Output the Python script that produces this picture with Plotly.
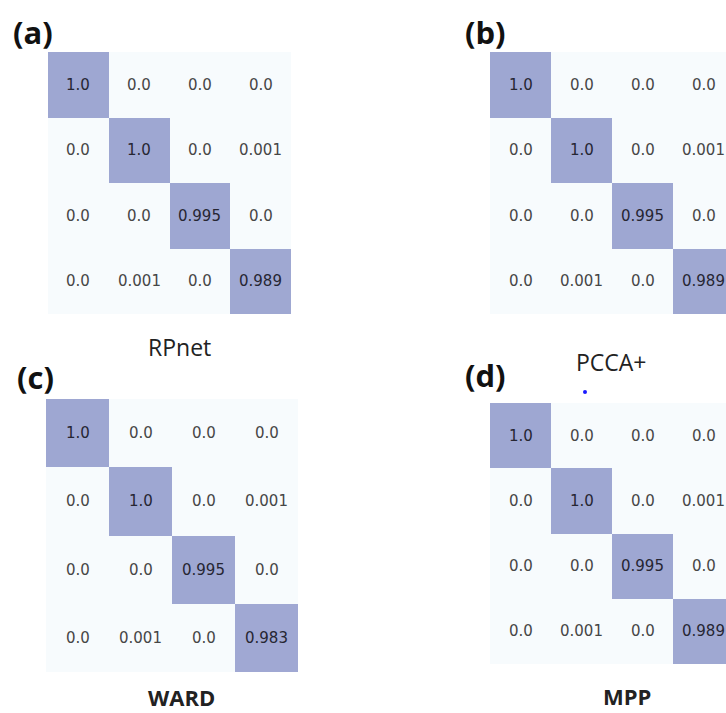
import plotly.graph_objects as go

W, H = 726, 713

# Confusion matrices (rows = true state, cols = assigned state)
rpnet = [[1.0, 0.0, 0.0, 0.0],
         [0.0, 1.0, 0.0, 0.001],
         [0.0, 0.0, 0.995, 0.0],
         [0.0, 0.001, 0.0, 0.989]]
pcca = [[1.0, 0.0, 0.0, 0.0],
        [0.0, 1.0, 0.0, 0.001],
        [0.0, 0.0, 0.995, 0.0],
        [0.0, 0.001, 0.0, 0.989]]
ward = [[1.0, 0.0, 0.0, 0.0],
        [0.0, 1.0, 0.0, 0.001],
        [0.0, 0.0, 0.995, 0.0],
        [0.0, 0.001, 0.0, 0.983]]
mpp = [[1.0, 0.0, 0.0, 0.0],
       [0.0, 1.0, 0.0, 0.001],
       [0.0, 0.0, 0.995, 0.0],
       [0.0, 0.001, 0.0, 0.989]]

panel_tags = ["(a)", "(b)", "(c)", "(d)"]
method_names = ["RPnet", "PCCA+", "WARD", "MPP"]
matrices = [rpnet, pcca, ward, mpp]

# pixel boxes of each heatmap: (left, right, top, bottom, visible columns)
boxes = [
    (48, 291, 52, 314, 4.0),
    (490, 726, 52, 314, (726 - 490) / 61.0),
    (46, 298, 399, 672, 4.0),
    (490, 726, 403, 664, (726 - 490) / 61.0),
]

colorscale = [[0.0, "#f7fbfd"], [1.0, "#9ea7d2"]]

fig = go.Figure()
annotations = []

for i, (mat, box) in enumerate(zip(matrices, boxes)):
    left, right, top, bottom, ncols = box
    ax = "" if i == 0 else str(i + 1)
    fig.add_trace(go.Heatmap(
        z=mat, x=[0, 1, 2, 3], y=[0, 1, 2, 3],
        colorscale=colorscale, zmin=0, zmax=1,
        showscale=False, xgap=0, ygap=0,
        xaxis="x" + ax, yaxis="y" + ax, hoverinfo="skip",
    ))
    fig.update_layout(**{
        "xaxis" + ax: dict(domain=[left / W, right / W], range=[-0.5, ncols - 0.5],
                           visible=False, anchor="y" + ax, fixedrange=True),
        "yaxis" + ax: dict(domain=[1 - bottom / H, 1 - top / H], range=[3.5, -0.5],
                           visible=False, anchor="x" + ax, fixedrange=True),
    })
    for r in range(4):
        for c in range(4):
            v = mat[r][c]
            annotations.append(dict(
                x=c, y=r, xref="x" + ax, yref="y" + ax, text=str(v), showarrow=False,
                xanchor="center", yanchor="middle",
                font=dict(family="DejaVu Sans", size=15,
                          color="#262632" if r == c else "#464646"),
            ))

# panel tags
tag_pos = [(33, 32), (485, 32), (35, 377), (485, 375)]
for tag, (px, py) in zip(panel_tags, tag_pos):
    annotations.append(dict(x=px / W, y=1 - py / H, xref="paper", yref="paper",
                            xanchor="center", yanchor="middle",
                            text="<b>%s</b>" % tag, showarrow=False,
                            font=dict(family="Open Sans", size=31, color="#111111")))

# method titles
name_pos = [(179, 347, False, 23), (611, 362, False, 23),
            (181, 697, True, 22), (627, 696, True, 22)]
for name, (px, py, bold, fs) in zip(method_names, name_pos):
    annotations.append(dict(x=px / W, y=1 - py / H, xref="paper", yref="paper",
                            xanchor="center", yanchor="middle", borderpad=0,
                            text=("<b>%s</b>" % name) if bold else name, showarrow=False,
                            font=dict(family="Open Sans", size=fs, color="#222222")))

fig.add_shape(type="circle", xref="paper", yref="paper",
              x0=583 / W, x1=587 / W, y0=1 - 394 / H, y1=1 - 390 / H,
              fillcolor="#1a1aff", line=dict(width=0))

fig.update_layout(
    width=W, height=H, margin=dict(l=0, r=0, t=0, b=0),
    paper_bgcolor="white", plot_bgcolor="white",
    annotations=annotations, showlegend=False,
)

fig.write_html("out.html")
